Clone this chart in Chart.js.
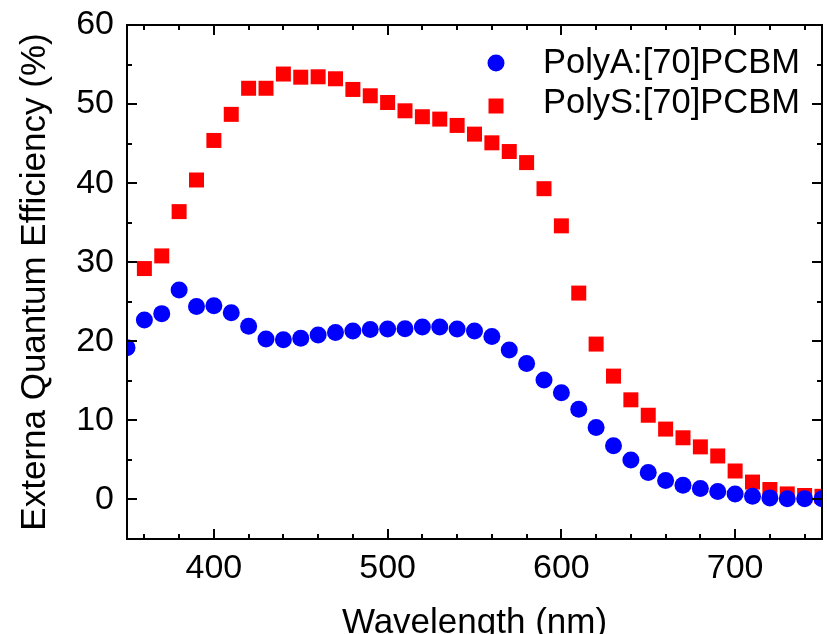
<!DOCTYPE html>
<html>
<head>
<meta charset="utf-8">
<script src="https://cdn.jsdelivr.net/npm/chart.js@4.4.0/dist/chart.umd.min.js"></script>
<style>
  html, body { margin: 0; padding: 0; background: #fff; }
  #eqe { display: block; }
</style>
</head>
<body>
<canvas id="eqe" width="827" height="634"></canvas>
<script>
// PolyA:[70]PCBM, 350-750 nm
const wavelengthA = [350, 360, 370, 380, 390, 400, 410, 420, 430, 440, 450, 460, 470, 480, 490,
  500, 510, 520, 530, 540, 550, 560, 570, 580, 590, 600, 610, 620, 630, 640, 650, 660, 670, 680,
  690, 700, 710, 720, 730, 740, 750];
const eqeA = [19.2, 22.7, 23.5, 26.5, 24.4, 24.5, 23.6, 21.9, 20.3, 20.2, 20.4, 20.8, 21.1, 21.3, 21.5,
  21.55, 21.6, 21.8, 21.8, 21.55, 21.3, 20.6, 18.9, 17.2, 15.1, 13.5, 11.4, 9.1, 6.8, 5.0, 3.4, 2.4, 1.8, 1.4,
  1.0, 0.7, 0.4, 0.2, 0.1, 0.1, 0.1];

// PolyS:[70]PCBM, 360-750 nm
const wavelengthS = [360, 370, 380, 390, 400, 410, 420, 430, 440, 450, 460, 470, 480, 490,
  500, 510, 520, 530, 540, 550, 560, 570, 580, 590, 600, 610, 620, 630, 640, 650, 660, 670, 680,
  690, 700, 710, 720, 730, 740, 750];
const eqeS = [29.2, 30.8, 36.4, 40.4, 45.4, 48.7, 52.0, 52.0, 53.8, 53.4, 53.45, 53.2, 51.85, 51.05,
  50.2, 49.15, 48.4, 48.1, 47.3, 46.2, 45.1, 44.0, 42.6, 39.3, 34.6, 26.1, 19.65, 15.6, 12.6, 10.65, 8.9, 7.8, 6.65,
  5.5, 3.6, 2.2, 1.26, 0.7, 0.5, 0.4];

const xTicks = [400, 500, 600, 700];
const yTicks = [0, 10, 20, 30, 40, 50, 60];

const FONT = "'Liberation Sans', Arial, sans-serif";

// closed box with inward major / minor ticks on all four sides
const frameTicks = {
  id: 'frameTicks',
  afterDatasetsDraw(chart) {
    const { ctx, chartArea: a, scales: { x, y } } = chart;
    ctx.save();
    ctx.strokeStyle = '#000';
    ctx.lineWidth = 2;
    ctx.beginPath();
    for (let v = x.min + 10; v < x.max; v += 20) {
      const px = Math.round(x.getPixelForValue(v));
      const len = xTicks.includes(v) ? 10 : 5;
      ctx.moveTo(px, a.bottom); ctx.lineTo(px, a.bottom - len);
      ctx.moveTo(px, a.top); ctx.lineTo(px, a.top + len);
    }
    for (let v = y.min + 5; v < y.max; v += 5) {
      const py = Math.round(y.getPixelForValue(v));
      const len = yTicks.includes(v) ? 10 : 5;
      ctx.moveTo(a.left, py); ctx.lineTo(a.left + len, py);
      ctx.moveTo(a.right, py); ctx.lineTo(a.right - len, py);
    }
    ctx.stroke();
    ctx.strokeRect(a.left, a.top, a.right - a.left, a.bottom - a.top);
    ctx.restore();
  }
};

// legend in the upper right of the plot
const legendBox = {
  id: 'legendBox',
  afterDatasetsDraw(chart) {
    const ctx = chart.ctx;
    const a = chart.chartArea;
    ctx.save();
    ctx.font = '34.5px ' + FONT;
    ctx.textBaseline = 'alphabetic';
    ctx.textAlign = 'left';
    chart.data.datasets.forEach((ds, i) => {
      const cx = a.right - 326;
      const cy = 63 + i * 43;
      ctx.fillStyle = ds.backgroundColor;
      if (ds.pointStyle === 'rect') {
        const s = Math.SQRT1_2 * ds.pointRadius;
        ctx.fillRect(cx - s, cy - s, 2 * s, 2 * s);
      } else {
        ctx.beginPath();
        ctx.arc(cx, cy, ds.pointRadius, 0, Math.PI * 2);
        ctx.fill();
      }
      ctx.fillStyle = '#000';
      ctx.fillText(ds.label, a.right - 279, 73 + i * 40);
    });
    ctx.restore();
  }
};

new Chart(document.getElementById('eqe'), {
  type: 'scatter',
  data: {
    datasets: [
      {
        label: 'PolyA:[70]PCBM',
        data: wavelengthA.map((w, i) => ({ x: w, y: eqeA[i] })),
        pointStyle: 'circle',
        pointRadius: 8.5,
        borderWidth: 0,
        backgroundColor: 'rgb(0, 0, 255)',
        borderColor: 'rgb(0, 0, 255)'
      },
      {
        label: 'PolyS:[70]PCBM',
        data: wavelengthS.map((w, i) => ({ x: w, y: eqeS[i] })),
        pointStyle: 'rect',
        pointRadius: 10.6,
        borderWidth: 0,
        backgroundColor: 'rgb(255, 0, 0)',
        borderColor: 'rgb(255, 0, 0)'
      }
    ]
  },
  options: {
    responsive: false,
    devicePixelRatio: 1,
    animation: false,
    layout: { autoPadding: false, padding: { top: 25, right: 5, left: 0, bottom: 0 } },
    plugins: {
      legend: { display: false },
      tooltip: { enabled: false }
    },
    scales: {
      x: {
        type: 'linear',
        min: 350,
        max: 750,
        afterBuildTicks: s => { s.ticks = xTicks.map(v => ({ value: v })); },
        afterFit: s => { s.height = 95; s.paddingLeft = 0; s.paddingRight = 0; },
        grid: { display: false, drawTicks: false },
        border: { display: false },
        ticks: { color: '#000', padding: 9, maxRotation: 0, font: { family: FONT, size: 34 } },
        title: {
          display: true,
          text: 'Wavelength (nm)',
          color: '#000',
          padding: 0,
          font: { family: FONT, size: 35, lineHeight: 0.6 }
        }
      },
      y: {
        type: 'linear',
        min: -5,
        max: 60,
        afterBuildTicks: s => { s.ticks = yTicks.map(v => ({ value: v })); },
        afterFit: s => { s.width = 127; s.paddingTop = 0; s.paddingBottom = 0; },
        grid: { display: false, drawTicks: false },
        border: { display: false },
        ticks: { color: '#000', padding: 13, font: { family: FONT, size: 34 } },
        title: {
          display: true,
          text: 'Externa Quantum Efficiency (%)',
          color: '#000',
          padding: { top: 14, bottom: 0 },
          font: { family: FONT, size: 35, lineHeight: 1.2 }
        }
      }
    }
  },
  plugins: [frameTicks, legendBox]
});
</script>
</body>
</html>
